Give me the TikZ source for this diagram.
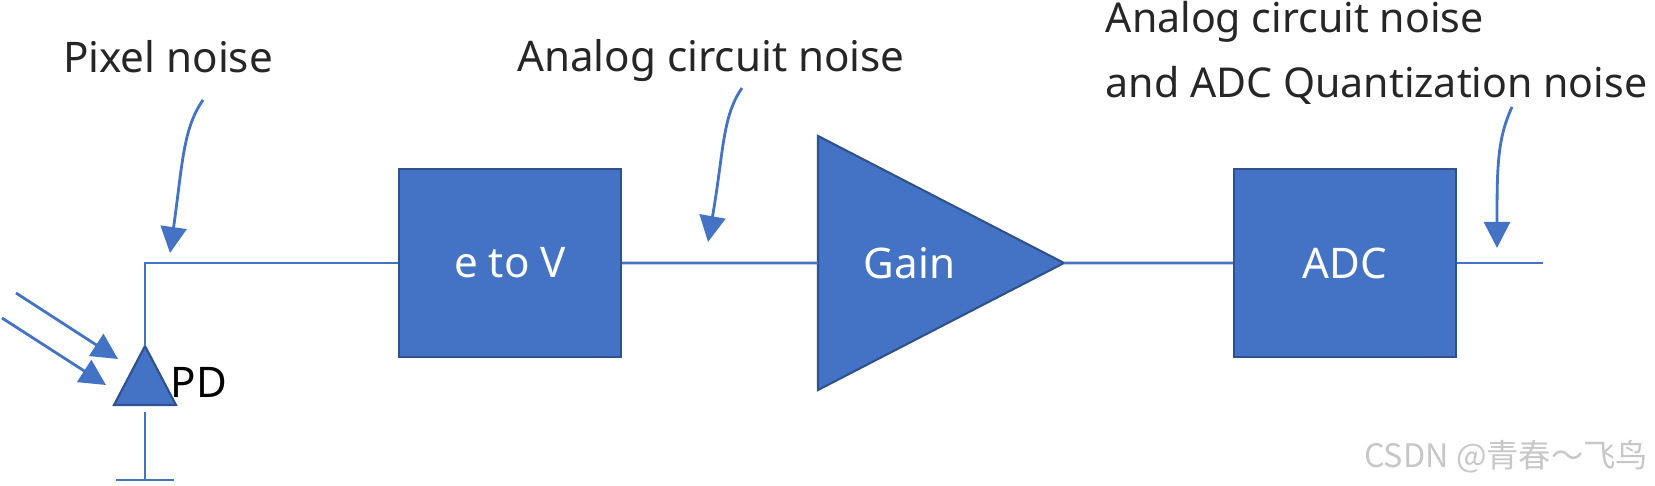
\documentclass[tikz,border=0pt]{standalone}
\usepackage{fontspec}
\setmainfont{Noto Sans}
\newfontfamily\cjkfont{Noto Sans CJK SC}
\usetikzlibrary{shapes.geometric, arrows.meta}
\definecolor{boxblue}{HTML}{4472C4}
\definecolor{edgeblue}{HTML}{2F528F}
\definecolor{textgray}{HTML}{262626}

\begin{document}
\begin{tikzpicture}[node distance = 8.35cm, auto,
    font=\fontsize{12}{14.4}\selectfont,
    block/.style={rectangle, draw=edgeblue, fill=boxblue, line width=0.6pt, text=white, minimum width=2.22cm, minimum height=1.88cm, inner sep=0pt},
    amp/.style={isosceles triangle, isosceles triangle stretches, shape border rotate=0, draw=edgeblue, fill=boxblue, line width=0.6pt, text=white, minimum width=2.54cm, minimum height=2.46cm, inner sep=0pt, outer sep=0pt},
    photo/.style={isosceles triangle, isosceles triangle stretches, shape border rotate=90, draw=edgeblue, fill=boxblue, line width=0.6pt, minimum width=0.62cm, minimum height=0.59cm, inner sep=0pt, outer sep=0pt},
    wire/.style={draw=boxblue, line width=0.8pt},
    noise/.style={wire, -{Triangle[length=0.26cm, width=0.26cm]}},
    note/.style={text=textgray, inner sep=0pt}]
    \useasboundingbox (0,0) rectangle (16.55,4.86);
    % Place nodes
    \node [block] (etov) at (5.10,2.23) {e to V};
    \node [block, right of=etov] (adc) {ADC};
    \node [amp, anchor=apex] (gain) at (10.64,2.23) {\hspace{0.1cm}Gain};
    \node [photo, anchor=apex] (pd) at (1.45,1.40) {};
    \node [anchor=base west, inner sep=0pt] (pdname) at (1.70,0.88) {PD};

    \node [note, anchor=base] (pixnoise) at (1.68,4.13) {Pixel noise};
    \node [note, anchor=base] (ananoise) at (7.11,4.14) {Analog circuit noise};
    \node [note, anchor=base west, align=left, font=\fontsize{11.7}{18.7}\selectfont] (adcnoise) at (11.05,3.88) {Analog circuit noise\\and ADC Quantization noise};
    \node [anchor=east, inner sep=0pt, text=black!22, font=\cjkfont\fontsize{9.2}{11}\selectfont] (mark) at (16.49,0.29) {CSDN @青春～飞鸟};

    % Wires
    \coordinate (out) at (15.43,2.23);
    \draw [wire] (pd.apex) |- (etov);
    \draw [wire] (etov) -- (gain);
    \draw [wire] (gain) -- (adc);
    \draw [wire] (adc) -- (out);

    % Ground
    \draw [wire] ([yshift=-0.07cm]pd.south) -- ++(0,-0.68) coordinate (gnd);
    \draw [wire] ([xshift=-0.29cm]gnd) -- ([xshift=0.29cm]gnd);

    % Light
    \coordinate (ray1) at (0.16,1.93);
    \coordinate (ray2) at (0.02,1.68);
    \draw [noise] (ray1) -- (1.18,1.27);
    \draw [noise] (ray2) -- (1.06,1.01);

    % Noise sources
    \coordinate (pixs) at (2.03,3.86);
    \coordinate (pixt) at (1.70,2.33);
    \coordinate (anas) at (7.42,3.98);
    \coordinate (anat) at (7.08,2.44);
    \coordinate (adcs) at (15.12,3.79);
    \coordinate (adct) at (14.97,2.38);
    \draw [noise] (pixs) .. controls +(-125:0.35) and +(82:0.9) .. (pixt);
    \draw [noise] (anas) .. controls +(-125:0.35) and +(80:0.9) .. (anat);
    \draw [noise] (adcs) .. controls +(-115:0.35) and +(90:0.8) .. (adct);
\end{tikzpicture}
\end{document}
